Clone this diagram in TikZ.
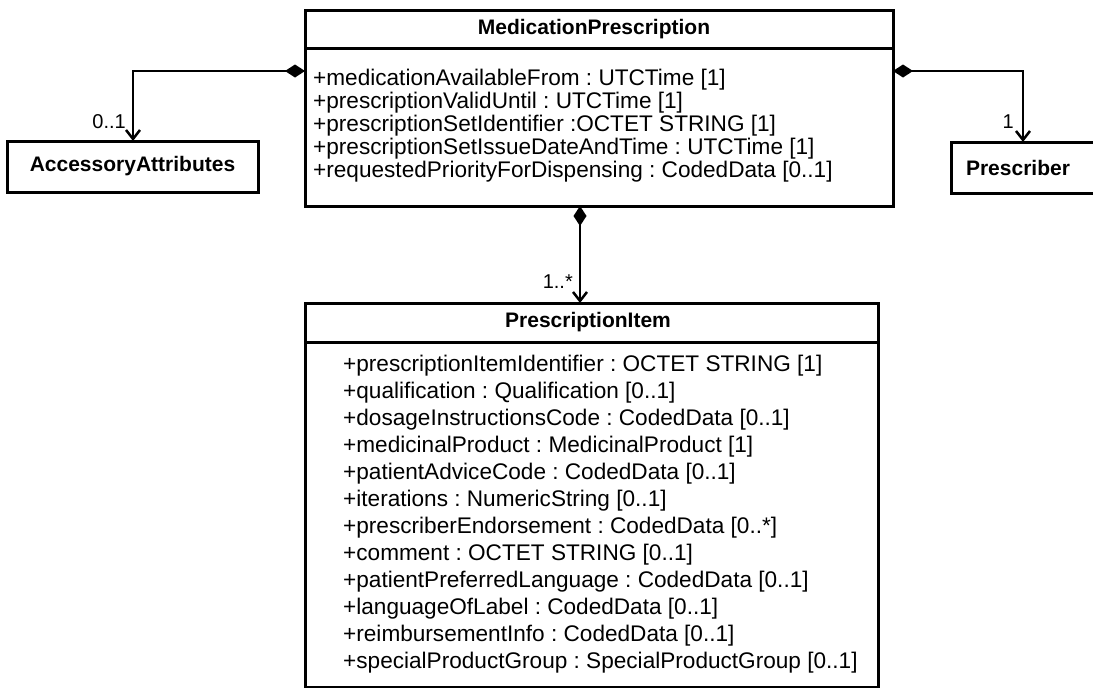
\documentclass[tikz,border=0pt]{standalone}
\usepackage{fontspec}
\setmainfont{Liberation Sans}
\usetikzlibrary{arrows.meta,positioning}
\frenchspacing

\tikzset{
  classbox/.style={draw, line width=3pt, inner sep=0pt, outer sep=0pt, anchor=north west},
  classname/.style={font=\fontsize{21}{25}\selectfont\bfseries, inner sep=0pt},
  attr/.style={font=\fontsize{22.6}{26}\selectfont, inner sep=0pt, anchor=base west},
  assoc/.style={line width=2.5pt, {Diamond[length=20pt,width=13pt]}-{Straight Barb[length=9pt,width=14pt]}},
  mult/.style={font=\fontsize{20}{24}\selectfont, inner sep=0pt, anchor=base east}
}

\begin{document}
\begin{tikzpicture}[x=1pt, y=-1pt]
  \useasboundingbox (0,0) rectangle (1093,688);

  % MedicationPrescription
  \node[classbox, minimum width=588pt, minimum height=196pt] (mp) at (305,10) {};
  \draw[line width=3pt] ([yshift=-38pt]mp.north west) -- ([yshift=-38pt]mp.north east);
  \node[classname] (mptitle) at (594,29) {MedicationPrescription};
  \foreach \txt [count=\i] in {
      +medicationAvailableFrom : UTCTime [1],
      +prescriptionValidUntil : UTCTime [1],
      +prescriptionSetIdentifier :OCTET STRING [1],
      +prescriptionSetIssueDateAndTime : UTCTime [1],
      +requestedPriorityForDispensing : CodedData [0..1]}
    \node[attr] (mpattr\i) at (313, 85+23*\i-23) {\txt};

  % AccessoryAttributes
  \node[classbox, minimum width=251pt, minimum height=51pt] (acc) at (7,141) {};
  \node[classname] (acctitle) at (acc.center) {AccessoryAttributes};

  % Prescriber
  \node[classbox, minimum width=150pt, minimum height=51pt] (presc) at (951,142) {};
  \node[classname] (presctitle) at ([xshift=-8pt]presc.center) {Prescriber};

  % PrescriptionItem
  \node[classbox, minimum width=573pt, minimum height=384pt] (pi) at (305,303) {};
  \draw[line width=3pt] ([yshift=-39pt]pi.north west) -- ([yshift=-39pt]pi.north east);
  \node[classname] (pititle) at (588,322) {PrescriptionItem};
  \foreach \txt [count=\i] in {
      +prescriptionItemIdentifier : OCTET STRING [1],
      +qualification : Qualification [0..1],
      +dosageInstructionsCode : CodedData [0..1],
      +medicinalProduct : MedicinalProduct [1],
      +patientAdviceCode : CodedData [0..1],
      +iterations : NumericString [0..1],
      +prescriberEndorsement : CodedData [0..*],
      +comment : OCTET STRING [0..1],
      +patientPreferredLanguage : CodedData [0..1],
      +languageOfLabel : CodedData [0..1],
      +reimbursementInfo : CodedData [0..1],
      +specialProductGroup : SpecialProductGroup [0..1]}
    \node[attr] (piattr\i) at (343, 371+27*\i-27) {\txt};

  % associations
  \coordinate (mpleft) at (mp.west |- 0,71);
  \coordinate (mpright) at (mp.east |- 0,71);
  \draw[assoc] (mpleft) -| (acc.north -| 133,0);
  \draw[assoc] (mpright) -| (presc.north -| 1023,0);
  \draw[assoc] (mp.south -| 580,0) -- (pi.north -| 580,0);

  \node[mult] (m1) at (126,128) {0..1};
  \node[mult] (m2) at (1014,128) {1};
  \node[mult] (m3) at (573,288) {1..*};
\end{tikzpicture}
\end{document}
